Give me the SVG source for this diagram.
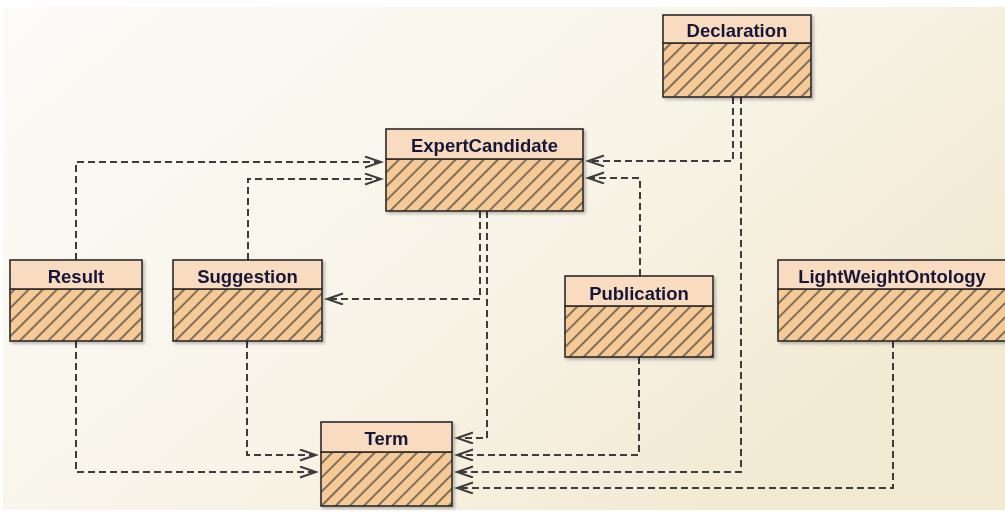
<svg xmlns="http://www.w3.org/2000/svg" width="1005" height="518" viewBox="0 0 1005 518">
  <defs>
    <linearGradient id="bg" x1="0" y1="0" x2="1" y2="0.6">
      <stop offset="0" stop-color="#fcfbf8"/>
      <stop offset="0.55" stop-color="#f8f4e8"/>
      <stop offset="1" stop-color="#f2e9d2"/>
    </linearGradient>
    <pattern id="hatch" patternUnits="userSpaceOnUse" width="10" height="10" patternTransform="rotate(45)">
      <rect width="10" height="10" fill="#f6c995"/>
      <line x1="5" y1="0" x2="5" y2="10" stroke="#6e6558" stroke-width="1.8"/>
    </pattern>
    <filter id="shadow" x="-10%" y="-10%" width="130%" height="130%">
      <feDropShadow dx="2" dy="2" stdDeviation="1.5" flood-color="#000" flood-opacity="0.25"/>
    </filter>
    <marker id="open" markerUnits="userSpaceOnUse" markerWidth="20" markerHeight="14" refX="17" refY="6" orient="auto">
      <path d="M1,0.5 L17,6 L1,11.5" fill="none" stroke="#3c3c3c" stroke-width="2"/>
    </marker>
  </defs>
  <style>
    .hdr { fill: #f9dcbf; stroke: #2b2b2b; stroke-width: 1.6; }
    .body { fill: url(#hatch); stroke: #2b2b2b; stroke-width: 1.6; }
    .name { font-family: "Liberation Sans", Arial, sans-serif; font-weight: bold; font-size: 18.5px; fill: #16163a; text-anchor: middle; }
    .dep { fill: none; stroke: #3c3c3c; stroke-width: 2; stroke-dasharray: 7 4; marker-end: url(#open); }
  </style>

  <rect x="0" y="0" width="1005" height="518" fill="#ffffff"/>
  <rect x="3" y="7" width="1002" height="503" fill="url(#bg)"/>

  <!-- dependency connectors -->
  <g id="connectors">
    <path class="dep" d="M76,260 V162 H381"/>
    <path class="dep" d="M248,260 V179 H381"/>
    <path class="dep" d="M733,97 V161 H588"/>
    <path class="dep" d="M640,276 V178 H588"/>
    <path class="dep" d="M480,211 V299 H327"/>
    <path class="dep" d="M487,211 V438 H457"/>
    <path class="dep" d="M639,357 V455 H457"/>
    <path class="dep" d="M741,97 V472 H457"/>
    <path class="dep" d="M893,341 V488 H457"/>
    <path class="dep" d="M76,341 V472 H316"/>
    <path class="dep" d="M247,341 V455 H316"/>
  </g>

  <g id="declaration" filter="url(#shadow)">
    <rect class="body" x="663" y="43" width="148" height="54"/>
    <rect class="hdr" x="663" y="15" width="148" height="28"/>
    <text class="name" x="737" y="37">Declaration</text>
  </g>

  <g id="expertcandidate" filter="url(#shadow)">
    <rect class="body" x="386" y="159" width="197" height="52"/>
    <rect class="hdr" x="386" y="129" width="197" height="30"/>
    <text class="name" x="484.5" y="152">ExpertCandidate</text>
  </g>

  <g id="result" filter="url(#shadow)">
    <rect class="body" x="10" y="289" width="132" height="52"/>
    <rect class="hdr" x="10" y="260" width="132" height="29"/>
    <text class="name" x="76" y="283">Result</text>
  </g>

  <g id="suggestion" filter="url(#shadow)">
    <rect class="body" x="173" y="289" width="149" height="52"/>
    <rect class="hdr" x="173" y="260" width="149" height="29"/>
    <text class="name" x="247.5" y="283">Suggestion</text>
  </g>

  <g id="publication" filter="url(#shadow)">
    <rect class="body" x="565" y="306" width="148" height="51"/>
    <rect class="hdr" x="565" y="276" width="148" height="30"/>
    <text class="name" x="639" y="300">Publication</text>
  </g>

  <g id="lightweightontology" filter="url(#shadow)">
    <rect class="body" x="778" y="289" width="232" height="52"/>
    <rect class="hdr" x="778" y="260" width="232" height="29"/>
    <text class="name" x="892" y="283">LightWeightOntology</text>
  </g>

  <g id="term" filter="url(#shadow)">
    <rect class="body" x="321" y="452" width="131" height="54"/>
    <rect class="hdr" x="321" y="422" width="131" height="30"/>
    <text class="name" x="386.5" y="445">Term</text>
  </g>
</svg>
